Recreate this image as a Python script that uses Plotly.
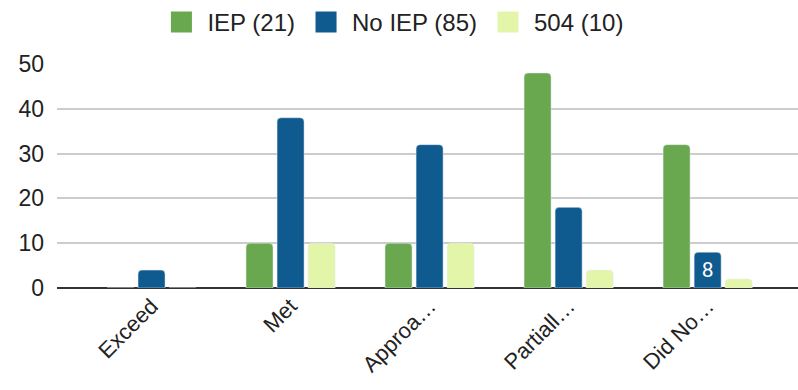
import plotly.graph_objects as go

categories = ["Exceed", "Met", "Approa…", "Partiall…", "Did No…"]
series_names = ["IEP (21)", "No IEP (85)", "504 (10)"]
iep = [0, 10, 10, 48, 32]
no_iep = [4, 38, 32, 18, 8]
s504 = [0, 10, 10, 4, 2]
colors = ["#6aa84f", "#0f5a8f", "#e2f5a9"]
y_ticks = [0, 10, 20, 30, 40, 50]

FONT = "Liberation Sans"
series = [iep, no_iep, s504]

fig = go.Figure()
for name, vals, col in zip(series_names, series, colors):
    is_blue = vals is no_iep
    fig.add_trace(go.Bar(
        name=name, x=categories, y=vals, marker_color=col, showlegend=False,
        text=[str(v) if (is_blue and v == 8) else "" for v in vals],
        textposition="inside", insidetextanchor="middle",
        textfont=dict(color="white", size=21, family="Roboto"),
    ))
# legend entries (large square swatches)
for name, col in zip(series_names, colors):
    fig.add_trace(go.Scatter(
        name=name, x=[None], y=[None], mode="markers",
        marker=dict(symbol="square", size=20, color=col, line=dict(color=col, width=5)),
        showlegend=True,
    ))

fig.update_layout(
    width=798, height=390,
    margin=dict(l=57, r=0, t=64, b=102),
    paper_bgcolor="white", plot_bgcolor="white",
    barmode="group", bargap=0.33, bargroupgap=0.13, barcornerradius=4,
    font=dict(family=FONT, color="#222222"),
    legend=dict(orientation="h", x=0.452, xanchor="center", yref="container", y=1.0, yanchor="top",
                font=dict(size=24, color="#222222", family=FONT), itemwidth=42, traceorder="normal"),
    showlegend=True,
)
fig.update_xaxes(
    range=[-0.68, 4.65], tickangle=-45, tickfont=dict(size=22, color="#222222", family=FONT),
    showgrid=False, showline=False, ticks="",
)
fig.update_yaxes(
    range=[0, 50], tickvals=y_ticks, tickfont=dict(size=23, color="#222222", family=FONT),
    showgrid=True, gridcolor="#cccccc", gridwidth=2,
    zeroline=True, zerolinecolor="#333333", zerolinewidth=2,
    ticks="", ticklabelstandoff=12,
)
fig.write_html("out.html")
